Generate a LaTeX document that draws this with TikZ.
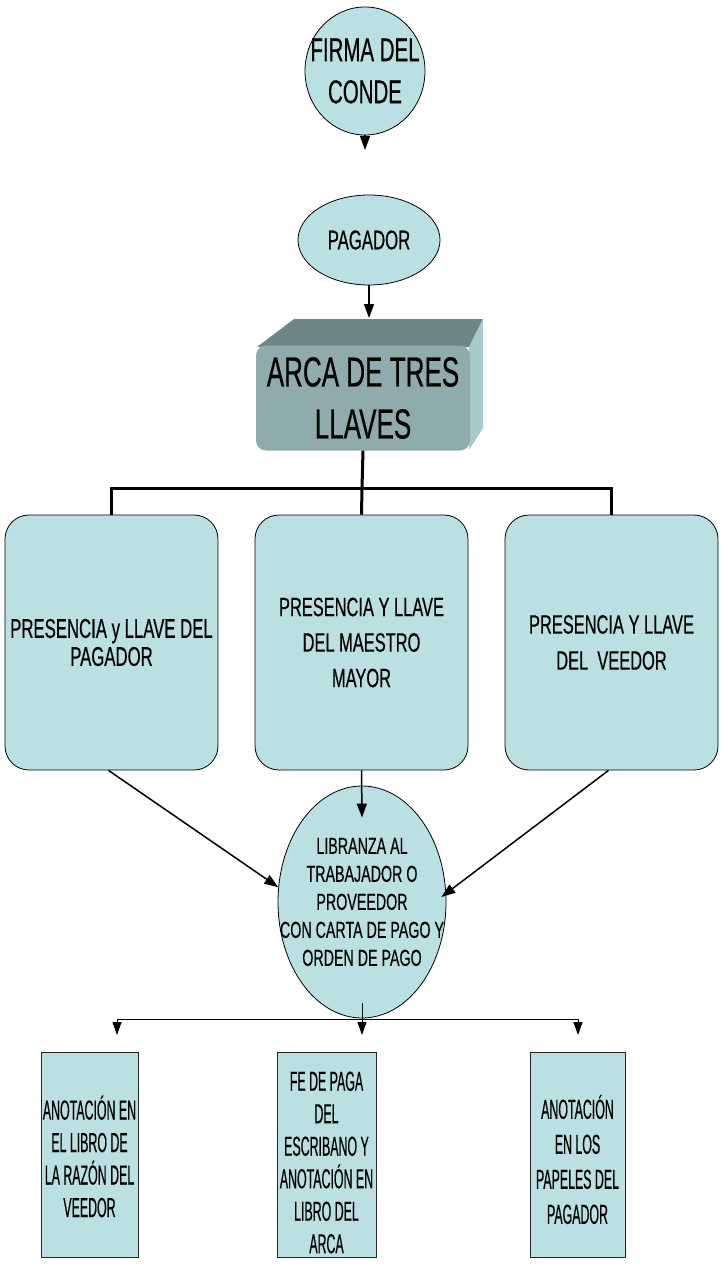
\documentclass[tikz,border=0pt]{standalone}
\usepackage{fontspec}
\setmainfont{Liberation Sans}[FakeStretch=0.62,FakeBold=0.4]
\newfontfamily\narrowf{Liberation Sans}[FakeStretch=0.45,FakeBold=0.4]
\usetikzlibrary{shapes.geometric,arrows.meta,calc}
\definecolor{lteal}{RGB}{187,224,227}
\definecolor{arcfront}{RGB}{143,171,173}
\definecolor{arctop}{RGB}{110,134,136}
\definecolor{arcside}{RGB}{168,202,204}
\begin{document}
\begin{tikzpicture}[x=1pt,y=-1pt,
  oval/.style={ellipse, draw=black, fill=lteal, line width=0.8pt, inner sep=0pt},
  roundbox/.style={draw=black, fill=lteal, rounded corners=24pt, minimum width=213pt,
    minimum height=255pt, line width=0.8pt, align=center, inner sep=0pt},
  plainbox/.style={draw=black!85, fill=lteal, minimum height=205pt, inner sep=0pt,
    line width=0.8pt},
  bottxt/.style={font=\narrowf\fontsize{27.5}{32.5}\selectfont, align=center},
  arr/.style={line width=1.5pt, -{Triangle[length=14pt,width=10pt]}},
  arrs/.style={line width=1pt, -{Triangle[length=13pt,width=9pt]}},
  bar/.style={line width=3pt, line join=miter},
  thinline/.style={line width=1pt}]
\useasboundingbox (0,0) rectangle (720,1268);

% top ovals
\node[oval, minimum width=120pt, minimum height=128pt,
  label={[font=\fontsize{33}{42}\selectfont, align=center]center:{FIRMA DEL\\CONDE}}] (firma) at (365,71) {};
\coordinate (t1) at (365,150);
\draw[arr] (firma.south) -- (t1);

\node[oval, minimum width=142pt, minimum height=90pt,
  label={[font=\fontsize{27}{30}\selectfont]center:{PAGADOR}}] (pag) at (369,240) {};

% arca (3D box)
\fill[arctop] (257,347) -- (294,319) -- (483,319) -- (469,347) -- cycle;
\fill[arcside] (469,347) -- (483,319) -- (483,428) -- (469,450) -- cycle;
\node[fill=arcfront, rounded corners=10pt, minimum width=214pt, minimum height=105pt,
  inner sep=0pt, align=center, font=\fontsize{42}{52}\selectfont] (arca) at (363,398)
  {ARCA DE TRES\\LLAVES};
\coordinate (arcatop) at (369,318);
\draw[arr] (pag.south) -- (arcatop);

% three keys
\node[roundbox, font=\fontsize{27}{28}\selectfont] (b1) at (111.5,642.5)
  {PRESENCIA y LLAVE DEL\\PAGADOR};
\node[roundbox, font=\fontsize{26.5}{35.5}\selectfont] (b2) at (361.5,642.5)
  {PRESENCIA Y LLAVE\\DEL MAESTRO\\MAYOR};
\node[roundbox, font=\fontsize{26.5}{36}\selectfont] (b3) at (611.5,642.5)
  {PRESENCIA Y LLAVE\\DEL\ \ VEEDOR};

\coordinate (bj) at (362,488);
\draw[bar] (arca.south) -- (bj);
\draw[bar] (b1.north) -- (b1.north |- bj) -- (b3.north |- bj) -- (b3.north);
\draw[bar] (bj) -- (b2.north);

% libranza
\node[oval, minimum width=168pt, minimum height=232pt,
  label={[font=\fontsize{23}{28}\selectfont, align=center]center:{LIBRANZA AL\\TRABAJADOR O\\ PROVEEDOR\\CON CARTA DE PAGO Y\\ORDEN DE PAGO}}] (lib) at (362,902) {};

\draw[arr] ($(b1.south)+(-3,0)$) -- (lib.170);
\draw[arr] (b2.south) -- ($(lib.north)+(0,32)$);
\draw[arr] ($(b3.south)+(-3,0)$) -- ($(lib.east)+(-5,-5)$);

% bottom distribution
\coordinate (hl) at (117,1019);
\coordinate (hr) at (578,1019);
\coordinate (tl) at (117,1035);
\coordinate (tm) at (362,1035);
\coordinate (tr) at (578,1035);
\draw[thinline] (hl) -- (hr);
\draw[arrs] (hl) -- (tl);
\draw[arrs] (hr) -- (tr);
\draw[arrs] ($(lib.south)+(0,-15)$) -- (tm);

% bottom boxes
\node[plainbox, minimum width=97pt,
  label={[bottxt, yshift=-2pt]center:{ANOTACIÓN EN\\EL LIBRO DE\\LA RAZÓN DEL\\VEEDOR}}] (ba) at (89.5,1154.5) {};
\node[plainbox, minimum width=99pt,
  label={[bottxt, yshift=-8pt]center:{FE DE PAGA\\DEL\\ESCRIBANO Y\\ANOTACIÓN EN\\LIBRO DEL\\ARCA}}] (bb) at (326.5,1154.5) {};
\node[plainbox, minimum width=95pt,
  label={[font=\narrowf\fontsize{27.5}{35}\selectfont, align=center, yshift=-5pt]center:{ANOTACIÓN\\EN LOS\\PAPELES DEL\\PAGADOR}}] (bc) at (577.5,1154.5) {};
\end{tikzpicture}
\end{document}
